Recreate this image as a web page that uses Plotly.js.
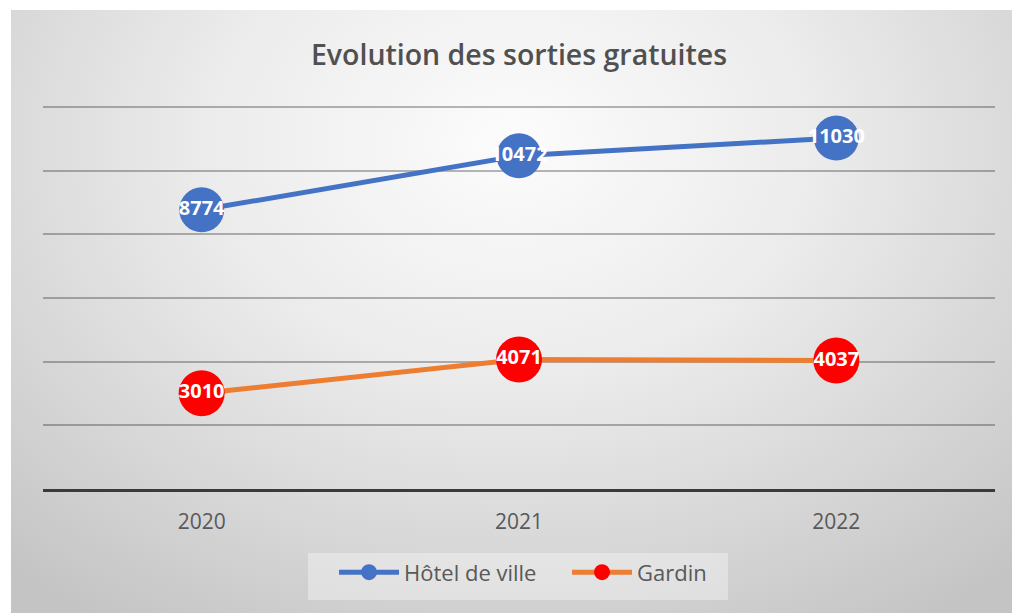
<!DOCTYPE html>
<html>
<head>
<meta charset="utf-8">
<script src="https://cdn.plot.ly/plotly-3.0.1.min.js"></script>
<style>
  html, body { margin: 0; padding: 0; background: #ffffff; }
  #bg { position: absolute; left: 11px; top: 10px; width: 1001px; height: 603px;
        background: radial-gradient(ellipse 75% 95% at 50% 22%, #fcfcfc 0%, #ececec 40%, #d5d5d5 75%, #c4c4c4 100%); }
  #chart { position: absolute; left: 0; top: 0; width: 1012px; height: 613px; }
</style>
</head>
<body>
<div id="bg"></div>
<div id="chart"></div>
<script>
const years = ['2020', '2021', '2022'];
const hotelDeVille = [8774, 10472, 11030];
const gardin = [3010, 4071, 4037];
const seriesNames = ['Hôtel de ville', 'Gardin'];
const chartTitle = 'Evolution des sorties gratuites';

const labelFont = { family: 'Open Sans, sans-serif', size: 20, color: '#ffffff', weight: 700 };

const traces = [
  {
    x: years, y: hotelDeVille, name: seriesNames[0], type: 'scatter', mode: 'lines+markers',
    line: { color: '#4472C4', width: 5 },
    marker: { color: '#4472C4', size: 45 },
    hoverinfo: 'skip'
  },
  {
    x: years, y: gardin, name: seriesNames[1], type: 'scatter', mode: 'lines+markers',
    line: { color: '#ED7D31', width: 5 },
    marker: { color: '#FF0000', size: 46 },
    hoverinfo: 'skip'
  },
  {
    x: years, y: hotelDeVille, text: hotelDeVille.map(String), type: 'scatter', mode: 'text',
    textposition: 'middle center', textfont: labelFont, showlegend: false, hoverinfo: 'skip'
  },
  {
    x: years, y: gardin, text: gardin.map(String), type: 'scatter', mode: 'text',
    textposition: 'middle center', textfont: labelFont, showlegend: false, hoverinfo: 'skip'
  }
];

const layout = {
  width: 1012, height: 613,
  margin: { l: 43, r: 17, t: 104, b: 124 },
  paper_bgcolor: 'rgba(0,0,0,0)',
  plot_bgcolor: 'rgba(0,0,0,0)',
  title: {
    text: chartTitle,
    x: 0.5, xanchor: 'center', xref: 'paper',
    y: 0.91, yanchor: 'middle', yref: 'container',
    font: { family: 'Open Sans, sans-serif', size: 28.5, color: '#505050', weight: 600 }
  },
  xaxis: {
    type: 'category', range: [-0.5, 2.5],
    showgrid: false, zeroline: false,
    showline: true, linecolor: '#3a3a3a', linewidth: 3,
    ticks: '', ticklabelstandoff: 12,
    tickfont: { family: 'Open Sans, sans-serif', size: 21, color: '#595959' }
  },
  yaxis: {
    range: [0, 12100], dtick: 2000, tick0: 0,
    showticklabels: false, zeroline: false, showline: false,
    showgrid: true, gridcolor: 'rgba(0,0,0,0.28)', gridwidth: 2
  },
  shapes: [{
    type: 'rect', xref: 'paper', yref: 'paper', layer: 'below',
    x0: 0.2784, x1: 0.7195, y0: -0.166, y1: -0.288,
    fillcolor: 'rgba(255,255,255,0.35)', line: { width: 0 }
  }],
  legend: {
    orientation: 'h', x: 0.3057, xanchor: 'left', xref: 'paper',
    y: -0.162, yanchor: 'top',
    bgcolor: 'rgba(0,0,0,0)', borderwidth: 0,
    itemwidth: 60, entrywidth: 158,
    font: { family: 'Open Sans, sans-serif', size: 22, color: '#595959' },
    traceorder: 'normal'
  },
  showlegend: true
};

Plotly.newPlot('chart', traces, layout, { displayModeBar: false, staticPlot: true });
</script>
</body>
</html>
